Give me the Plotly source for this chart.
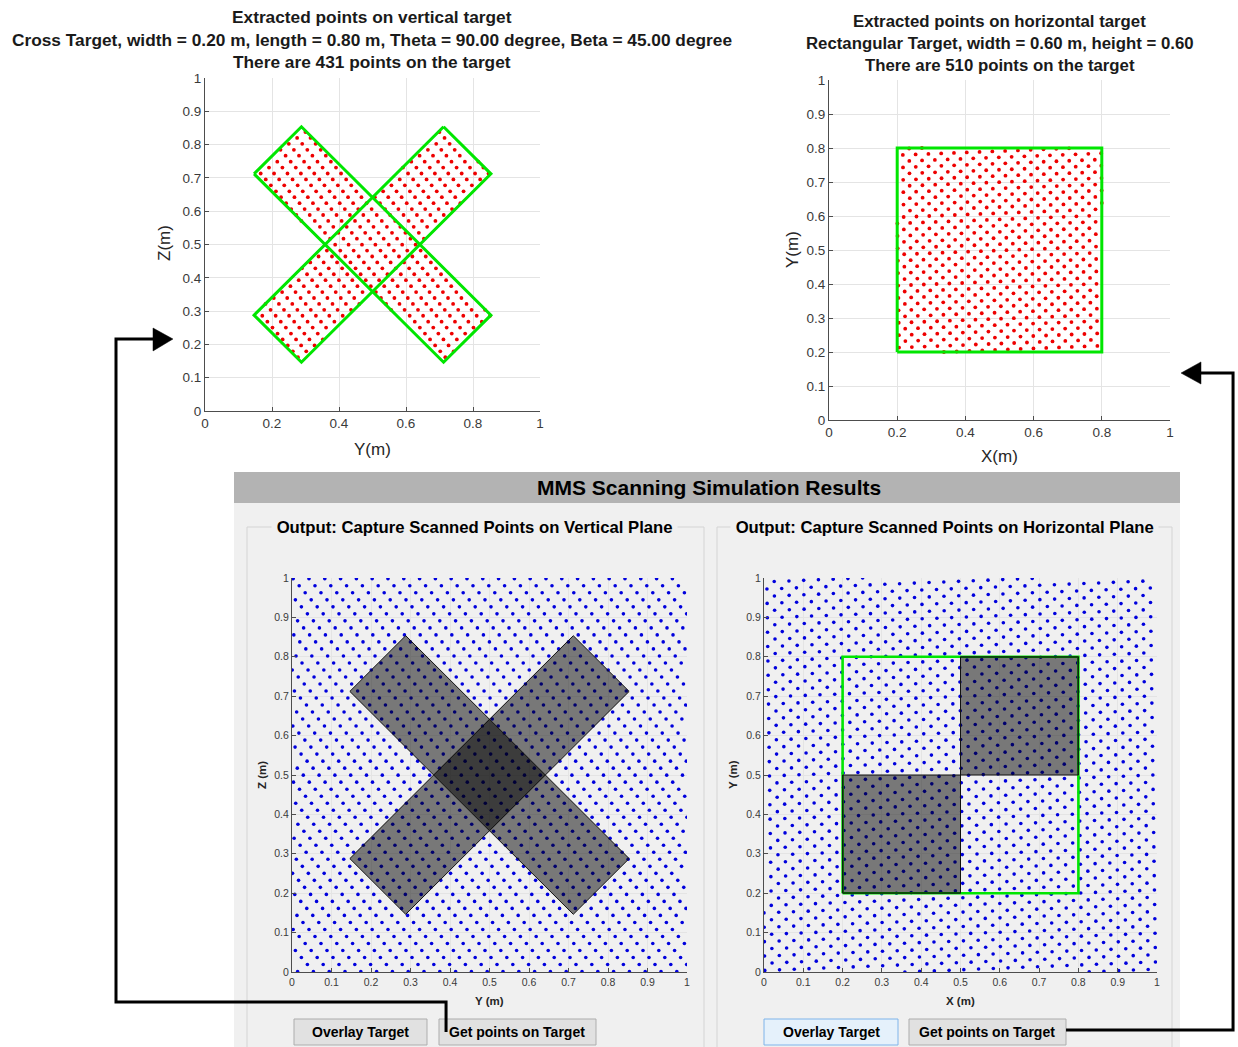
import numpy as np
import plotly.graph_objects as go

W, H = 1238, 1047

# ---------------- data ----------------
ticks_fine = [0, 0.1, 0.2, 0.3, 0.4, 0.5, 0.6, 0.7, 0.8, 0.9, 1]
ticks_coarse = [0, 0.2, 0.4, 0.6, 0.8, 1]

# cross target (vertical plane)
cross_width = 0.20
cross_length = 0.80
cross_center = (0.5, 0.5)
cross_arm_angles_deg = [45.0, 135.0]

# rectangular target (horizontal plane)
rect_x = [0.2, 0.8]
rect_y = [0.2, 0.8]
overlay_squares = [  # x0, x1, y0, y1
    [0.5, 0.8, 0.5, 0.8],
    [0.2, 0.5, 0.2, 0.5],
]

# scan-point lattices (spacing vectors, metres)
vert_step_a = (0.040, 0.0)
vert_step_b = (0.0152, -0.0178)
vert_origin = (0.003, 0.998)
horiz_step_a = (0.0375, 0.0015)
horiz_step_b = (0.0185, 0.019)
horiz_origin = (0.002, 0.004)

titles_left = ["Extracted points on vertical target",
               "Cross Target, width = 0.20 m, length = 0.80 m, Theta = 90.00 degree, Beta = 45.00 degree",
               "There are 431 points on the target"]
titles_right = ["Extracted points on horizontal target",
                "Rectangular Target, width = 0.60 m, height = 0.60",
                "There are 510 points on the target"]


# ---------------- helpers ----------------
def px(x):
    return x / W


def py(y):
    return 1 - y / H


def lattice(a, b, origin):
    pts = []
    for i in range(-120, 121):
        for j in range(-120, 121):
            x = origin[0] + i * a[0] + j * b[0]
            y = origin[1] + i * a[1] + j * b[1]
            if 0 <= x <= 1 and 0 <= y <= 1:
                pts.append((x, y))
    return np.array(pts)


def arm_corners(angle_deg):
    t = np.radians(angle_deg)
    u = np.array([np.cos(t), np.sin(t)])
    v = np.array([-np.sin(t), np.cos(t)])
    c = np.array(cross_center)
    hl, hw = cross_length / 2, cross_width / 2
    cs = [c + hl * u + hw * v, c - hl * u + hw * v, c - hl * u - hw * v, c + hl * u - hw * v]
    cs.append(cs[0])
    return np.array(cs), u, v


def in_arm(p, angle_deg):
    _, u, v = arm_corners(angle_deg)
    d = p - np.array(cross_center)
    return (np.abs(d @ u) <= cross_length / 2 + 1e-9) & (np.abs(d @ v) <= cross_width / 2 + 1e-9)


vpts = lattice(vert_step_a, vert_step_b, vert_origin)
hpts = lattice(horiz_step_a, horiz_step_b, horiz_origin)
vin = in_arm(vpts, 45) | in_arm(vpts, 135)
vtarget = vpts[vin]
hin = (hpts[:, 0] >= rect_x[0]) & (hpts[:, 0] <= rect_x[1]) & (hpts[:, 1] >= rect_y[0]) & (hpts[:, 1] <= rect_y[1])
htarget = hpts[hin]

fig = go.Figure()

GREEN = "#00e600"

# ---- top-left: extracted points on the cross ----
fig.add_trace(go.Scatter(x=vtarget[:, 0], y=vtarget[:, 1], mode="markers",
                         marker=dict(color="#ee0000", size=3.8), xaxis="x", yaxis="y", hoverinfo="skip"))
for ang in cross_arm_angles_deg:
    cs, _, _ = arm_corners(ang)
    fig.add_trace(go.Scatter(x=cs[:, 0], y=cs[:, 1], mode="lines",
                             line=dict(color=GREEN, width=3), xaxis="x", yaxis="y", hoverinfo="skip"))

# ---- top-right: extracted points on the rectangle ----
fig.add_trace(go.Scatter(x=htarget[:, 0], y=htarget[:, 1], mode="markers",
                         marker=dict(color="#ee0000", size=3.8), xaxis="x2", yaxis="y2", hoverinfo="skip"))
fig.add_trace(go.Scatter(x=[rect_x[0], rect_x[1], rect_x[1], rect_x[0], rect_x[0]],
                         y=[rect_y[0], rect_y[0], rect_y[1], rect_y[1], rect_y[0]], mode="lines",
                         line=dict(color=GREEN, width=3), xaxis="x2", yaxis="y2", hoverinfo="skip"))

# ---- bottom-left: scanned points on vertical plane + cross overlay ----
fig.add_trace(go.Scatter(x=vpts[:, 0], y=vpts[:, 1], mode="markers",
                         marker=dict(color="#0000dd", size=3.6), xaxis="x3", yaxis="y3", hoverinfo="skip"))
for ang in cross_arm_angles_deg:
    cs, _, _ = arm_corners(ang)
    fig.add_trace(go.Scatter(x=cs[:, 0], y=cs[:, 1], mode="lines", fill="toself",
                             fillcolor="rgba(0,0,0,0.5)", line=dict(color="#111111", width=1),
                             xaxis="x3", yaxis="y3", hoverinfo="skip"))

# ---- bottom-right: scanned points on horizontal plane + overlay ----
fig.add_trace(go.Scatter(x=hpts[:, 0], y=hpts[:, 1], mode="markers",
                         marker=dict(color="#0000dd", size=3.6), xaxis="x4", yaxis="y4", hoverinfo="skip"))
fig.add_trace(go.Scatter(x=[rect_x[0], rect_x[1], rect_x[1], rect_x[0], rect_x[0]],
                         y=[rect_y[0], rect_y[0], rect_y[1], rect_y[1], rect_y[0]], mode="lines",
                         line=dict(color=GREEN, width=2.6), xaxis="x4", yaxis="y4", hoverinfo="skip"))
for sq in overlay_squares:
    x0, x1, y0, y1 = sq
    fig.add_trace(go.Scatter(x=[x0, x1, x1, x0, x0], y=[y0, y0, y1, y1, y0], mode="lines", fill="toself",
                             fillcolor="rgba(0,0,0,0.5)", line=dict(color="#111111", width=1),
                             xaxis="x4", yaxis="y4", hoverinfo="skip"))


def axis(domain, tickvals, fsize, anchor):
    return dict(domain=domain, range=[0, 1], tickmode="array", tickvals=tickvals,
                ticktext=[("%g" % t) for t in tickvals],
                showgrid=True, gridcolor="#e4e4e4", gridwidth=1, zeroline=False,
                showline=True, linecolor="#4d4d4d", linewidth=1, ticks="inside", ticklen=4,
                tickcolor="#4d4d4d", tickfont=dict(size=fsize, color="#3a3a3a"),
                anchor=anchor, fixedrange=True, automargin=False)


layout = dict(
    width=W, height=H, margin=dict(l=0, r=0, t=0, b=0, pad=0, autoexpand=False), showlegend=False,
    autosize=False,
    paper_bgcolor="white", plot_bgcolor="white",
    font=dict(family="Liberation Sans, Arial, sans-serif", color="#262626"),
    xaxis=axis([px(205), px(540)], ticks_coarse, 13.5, "y"),
    yaxis=axis([py(411), py(78)], ticks_fine, 13.5, "x"),
    xaxis2=axis([px(829), px(1170)], ticks_coarse, 13.5, "y2"),
    yaxis2=axis([py(420), py(80)], ticks_fine, 13.5, "x2"),
    xaxis3=axis([px(292), px(687)], ticks_fine, 10.5, "y3"),
    yaxis3=axis([py(972), py(578)], ticks_fine, 10.5, "x3"),
    xaxis4=axis([px(764), px(1157)], ticks_fine, 10.5, "y4"),
    yaxis4=axis([py(972), py(578)], ticks_fine, 10.5, "x4"),
)
fig.update_layout(**layout)

shapes = []


def rect(x0, y0, x1, y1, fill=None, line=None, lw=1, layer="below"):
    shapes.append(dict(type="rect", xref="paper", yref="paper", x0=px(x0), x1=px(x1), y0=py(y1), y1=py(y0),
                       fillcolor=fill if fill else "rgba(0,0,0,0)",
                       line=dict(color=line if line else "rgba(0,0,0,0)", width=lw if line else 0),
                       layer=layer))


# GUI panel, header bar, group boxes and buttons
rect(234, 472, 1180, 1048, fill="#f0f0f0")
rect(234, 472, 1180, 503, fill="#b3b3b3")
rect(247, 527, 704, 1052, line="#d4d4d4", lw=1)
rect(717, 527, 1172, 1052, line="#d4d4d4", lw=1)
rect(294, 1019, 427, 1045, fill="#e1e1e1", line="#adadad", lw=1, layer="above")
rect(439, 1019, 596, 1045, fill="#e1e1e1", line="#adadad", lw=1, layer="above")
rect(764, 1019, 898, 1045, fill="#e5f1fb", line="#7eb4ea", lw=1, layer="above")
rect(909, 1019, 1066, 1045, fill="#e1e1e1", line="#adadad", lw=1, layer="above")


def path(points, close=False, fill=None, lw=3):
    d = "M " + " L ".join("%.4f,%.4f" % (px(x), py(y)) for x, y in points)
    if close:
        d += " Z"
    shapes.append(dict(type="path", xref="paper", yref="paper", path=d,
                       line=dict(color="black", width=lw if not fill else 0.5),
                       fillcolor=fill if fill else "rgba(0,0,0,0)", layer="above"))


# connector arrows
path([(446, 1032), (446, 1002), (116, 1002), (116, 339), (155, 339)])
path([(153, 328), (173, 339), (153, 351)], close=True, fill="black")
path([(1066, 1030), (1233, 1030), (1233, 373), (1198, 373)])
path([(1201, 362), (1181, 373), (1201, 384)], close=True, fill="black")

fig.update_layout(shapes=shapes)

ann = []


def text(x, y, s, size, bold=False, angle=0, bg=None, color="#000000"):
    ann.append(dict(x=px(x), y=py(y), xref="paper", yref="paper", text=("<b>%s</b>" % s) if bold else s,
                    showarrow=False, font=dict(size=size, color=color), textangle=angle,
                    xanchor="center", yanchor="middle",
                    bgcolor=bg if bg else "rgba(0,0,0,0)", borderpad=0))


for i, s in enumerate(titles_left):
    text(372, 17 + i * 22.5, s, 17.3, bold=True, color="#1a1a1a")
for i, s in enumerate(titles_right):
    text(1000, 22 + i * 22, s, 16.8, bold=True, color="#1a1a1a")
text(372, 449, "Y(m)", 17, color="#262626")
text(165, 243, "Z(m)", 17, angle=-90, color="#262626")
text(1000, 457, "X(m)", 17, color="#262626")
text(792, 250, "Y(m)", 17, angle=-90, color="#262626")

text(709, 487, "MMS Scanning Simulation Results", 21, bold=True)
text(474, 527, "\u00a0Output: Capture Scanned Points on Vertical Plane\u00a0", 16.7, bold=True, bg="#f0f0f0")
text(944, 527, "\u00a0Output: Capture Scanned Points on Horizontal Plane\u00a0", 16.7, bold=True, bg="#f0f0f0")
text(489, 1001, "Y (m)", 11.5, bold=True, color="#262626")
text(262, 775, "Z (m)", 11.5, bold=True, angle=-90, color="#262626")
text(960, 1001, "X (m)", 11.5, bold=True, color="#262626")
text(733, 775, "Y (m)", 11.5, bold=True, angle=-90, color="#262626")

text(360, 1032, "Overlay Target", 14, bold=True)
text(517, 1032, "Get points on Target", 14, bold=True)
text(831, 1032, "Overlay Target", 14, bold=True)
text(987, 1032, "Get points on Target", 14, bold=True)

fig.update_layout(annotations=ann)
fig.write_html("out.html", config={"displayModeBar": False, "responsive": False},
               post_script="document.body.style.margin='0';document.body.style.padding='0';"
                           "document.body.style.overflow='hidden';")
